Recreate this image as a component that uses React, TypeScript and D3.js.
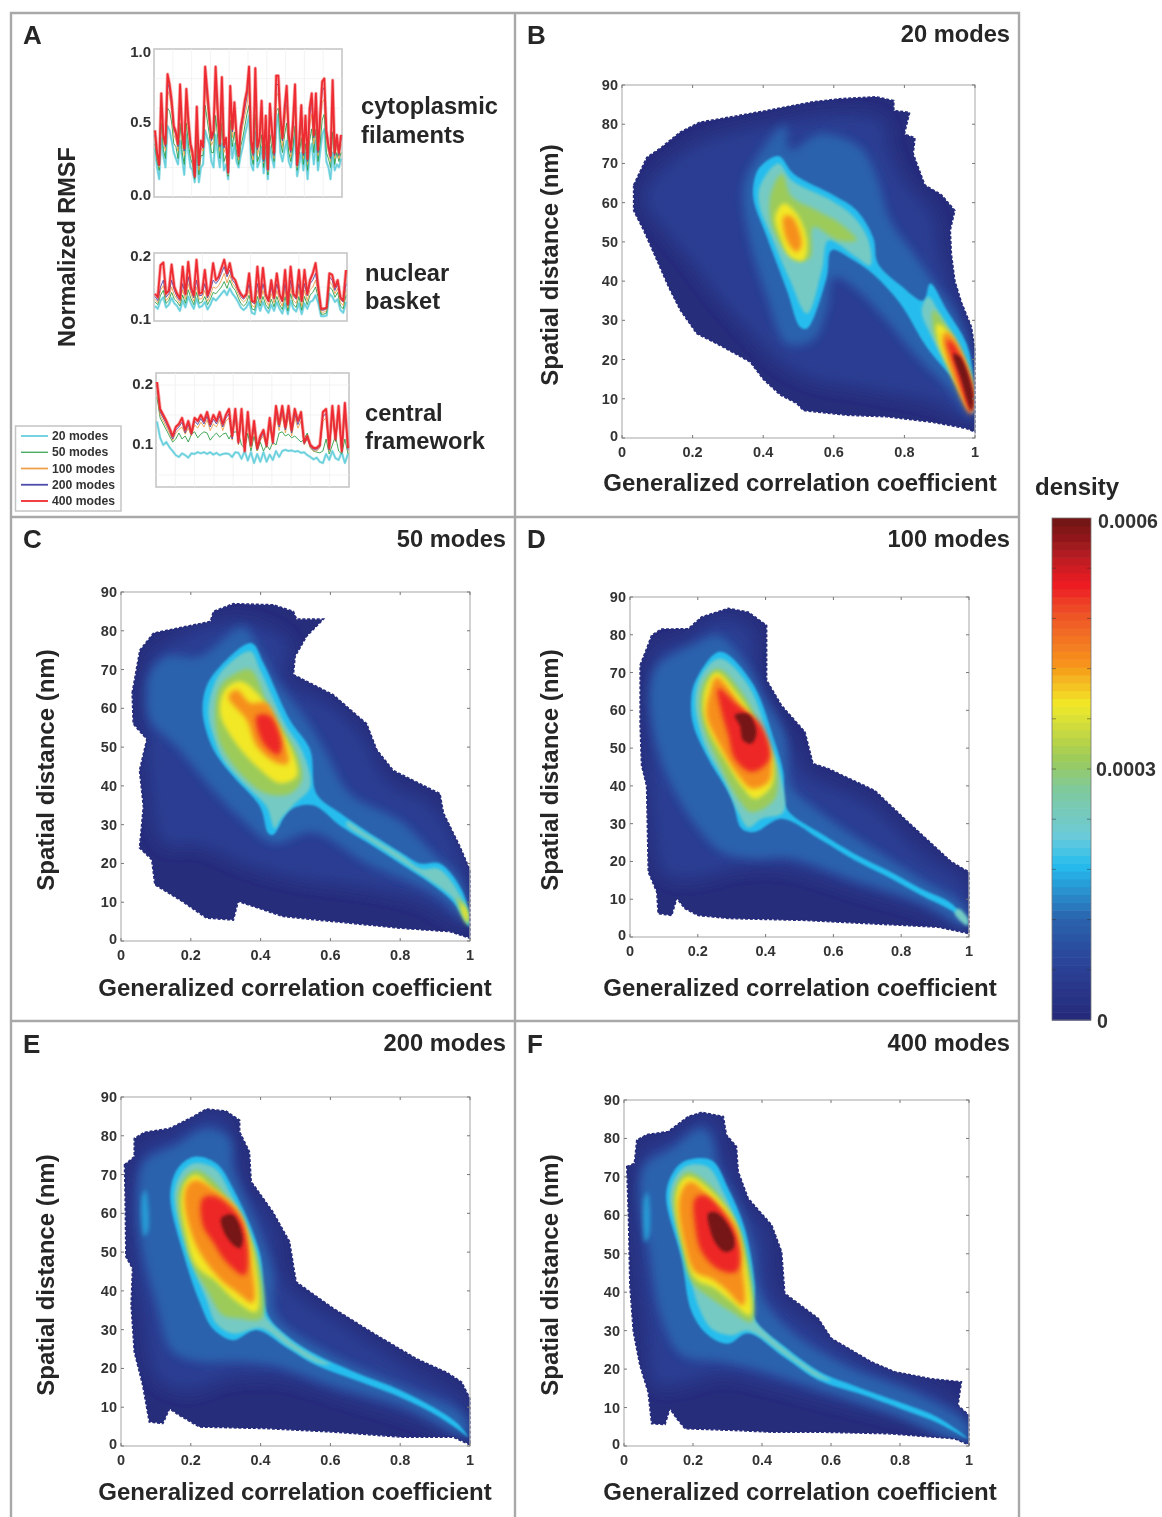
import React from "react";
import * as d3 from "d3";

// ---------- colour bar ----------
const colorStops = [0, 0.1, 0.2, 0.31, 0.37, 0.46, 0.52, 0.63, 0.71, 0.8, 0.87, 0.94, 1];
const colorHexes = ["#262a78", "#2b3f95", "#2b62ad", "#27bdee", "#6ecbd8", "#7fc99c", "#9ccb5a", "#f2e827", "#f7941d", "#ef5a28", "#ed1c24", "#a51c20", "#6d1315"];
const levels = [0.015, 0.09, 0.2, 0.31, 0.4, 0.52, 0.63, 0.72, 0.86, 0.99, 0.27];
const levelBlur = [0, 8, 5, 1.3, 1.7, 2, 2, 2.4, 2.8, 1.8, 2.2];

// ---------- density contours: [level index, ring of x,y in data units] ----------
const panelB: [number, number[]][] = [
  [0, [.033,64.5,.07,71.5,.11,74,.165,78,.22,80.5,.316,82,.41,83.5,.54,85.7,.617,86.5,.72,87,.77,86,.77,83.5,.815,83,.80,77.5,.83,76.5,.825,72.5,.858,64.5,.905,62,.943,58,.93,53,.933,47,.943,40,.962,34.5,.99,28.3,1,22.4,1,1.5,.976,2.4,.88,4,.75,5.4,.637,5.8,.514,7,.495,8.8,.448,11,.4,15,.363,19.4,.278,23.6,.212,26.6,.165,32.6,.132,38.5,.099,45.3,.061,53,.033,58]],
  [1, [.06,61.5,.12,69,.22,75.5,.335,78.5,.467,81,.618,82.7,.74,81,.76,73.4,.807,65,.882,57,.90,48,.93,39.4,.967,31,.993,20.7,.995,4.5,.882,8.8,.693,12.2,.54,14.7,.448,19,.363,26.6,.278,35,.184,46,.108,54]],
  [2, [.344,64,.382,71.7,.462,79.8,.476,73.4,.561,77.6,.674,74.2,.722,66.6,.76,55.5,.835,46,.892,38.5,.939,32.6,.986,21.5,.993,5.4,.929,12.2,.835,20.7,.74,30.9,.656,38.5,.6,41,.58,32.6,.542,25,.467,24,.41,36,.363,49.6]],
  [3, [.373,64.9,.39,69,.443,71.9,.486,67.4,.6,61.9,.665,58,.712,51,.725,44.5,.788,39,.854,35,.873,39.4,.92,32.6,.976,24,.995,15.6,.993,6.2,.939,14.7,.863,23.2,.788,34.3,.715,41.5,.656,45.3,.594,47.9,.58,41,.524,27.9,.505,28.3,.467,37.7,.41,51.3,.373,60.6]],
  [4, [.39,64,.443,70,.481,65.7,.6,60.2,.656,56.4,.698,50.4,.703,44,.656,46.6,.585,50.4,.566,42.8,.524,31.7,.476,40.2,.42,52,.39,59]],
  [4, [.868,36,.9,31.7,.957,23.2,.99,14.7,.993,7,.929,17.3,.873,26.6,.849,32.6]],
  [5, [.42,61.5,.453,67.4,.481,61.5,.552,58,.618,54.7,.665,50.4,.61,50.5,.542,53.8,.533,46,.495,45.3,.429,53]],
  [5, [.882,32.6,.92,28.3,.986,15.6,.986,8,.929,19,.882,27.5]],
  [6, [.434,56.4,.458,59.8,.495,57.2,.524,50.4,.514,45.3,.476,46.2,.448,51.3]],
  [6, [.892,29,.92,27.5,.988,14.7,.988,7,.929,17.3,.9,23.2]],
  [7, [.458,56.4,.481,56.4,.509,49.6,.495,47.4,.467,50.4]],
  [7, [.91,26.6,.929,26.6,.99,13.9,.988,6.2,.929,18]],
  [8, [.92,25,.939,24,.995,12,.99,6.2,.939,19]],
  [9, [.939,21.5,.958,20.7,.995,11,.99,7,.958,15.6]],
];
const panelC: [number, number[]][] = [
  [0, [.032,64,.054,75,.093,79.4,.179,81,.256,82.4,.265,85,.322,87,.436,86.7,.494,85,.503,83,.58,83,.532,78.6,.499,73.4,.494,68.7,.608,63.5,.704,56,.733,49.3,.78,44,.914,38,.924,33,.971,24.4,1,18.3,1,.7,.943,2.4,.8,3.3,.608,5,.465,6.3,.336,10.2,.322,5.4,.245,5.9,.169,10.6,.097,14.5,.088,21,.053,24,.064,34.7,.053,44,.074,52,.035,56]],
  [1, [.064,64,.083,73.4,.169,78.6,.322,82.9,.417,81,.484,76.8,.47,68,.608,60.5,.694,52.8,.761,41.6,.895,34.7,.981,20,.995,4.6,.847,10.6,.656,14,.513,15.7,.37,19,.226,24.4,.121,25,.078,41.6,.069,54.5]],
  [2, [.074,64,.083,69,.131,73.4,.226,73.4,.35,81,.398,75,.446,67,.532,57,.589,48.4,.656,38,.8,31,.895,22.6,.971,15.7,.995,5.4,.895,12.3,.704,20,.551,28,.436,25.2,.35,31,.255,39.8,.16,50,.083,57]],
  [3, [.234,58.8,.245,65.7,.284,70.8,.374,76.8,.408,71.7,.484,57,.542,49.3,.56,38,.628,33,.704,28.3,.8,22.9,.857,20,.914,20,.981,12.3,.998,3.7,.952,10,.895,14.4,.8,20,.704,25.5,.627,29.8,.551,35,.484,33.8,.436,27.4,.422,27.8,.398,34.7,.322,42.4,.265,49.3]],
  [4, [.25,58.8,.265,65.7,.293,70,.37,74.7,.398,70,.47,56,.522,48.4,.542,39.8,.499,35.5,.456,31.2,.441,29,.417,34.7,.36,39.8,.293,46.7,.265,52.7]],
  [4, [.647,30.8,.704,27.6,.8,22.3,.86,18.6,.91,18.6,.97,12,.995,5,.952,11,.895,15,.8,20.7,.704,26.3,.647,29.8]],
  [5, [.269,58.8,.284,65.7,.322,68.7,.37,70,.427,59.6,.503,48.4,.518,41.6,.484,38,.417,38,.35,42.4,.284,51]],
  [5, [.962,11.4,.99,8,.995,4.1,.976,7]],
  [6, [.284,58.8,.298,64.8,.341,67,.389,64,.446,56.2,.499,46.7,.503,42.4,.456,40.7,.389,45,.322,51.9]],
  [6, [.975,10,.993,7.5,.995,4.5,.98,7]],
  [7, [.308,63,.331,64.8,.37,61.4,.417,61.4,.451,55.3,.479,45.9,.446,45.9,.389,50.2,.36,57]],
  [8, [.389,58,.427,58,.46,51,.451,48,.408,51]],
];
const panelD: [number, number[]][] = [
  [0, [.03,72,.049,76.3,.064,79.9,.093,81.5,.172,81.6,.211,84.7,.29,87,.349,86,.403,82.5,.403,68,.447,61.3,.516,54.3,.54,45.9,.584,44.6,.722,38.8,.81,31.3,.948,19.9,1,17.2,1,.9,.909,2.6,.712,3.5,.516,4.4,.29,4.9,.201,5.7,.162,7.5,.138,10.2,.123,5.7,.083,6.2,.079,11.9,.054,17.2,.049,40,.034,45.5,.03,56]],
  [1, [.054,66.6,.074,75.5,.162,79,.26,84.3,.359,81.6,.378,68.4,.427,58.7,.486,49,.516,43.7,.712,34.9,.86,22.5,.992,13.7,.997,2.2,.86,7.5,.663,12.8,.467,18,.319,18,.201,15.4,.103,16.3,.064,31.3,.049,53.4]],
  [2, [.059,65.8,.083,72,.182,77.2,.26,79.9,.339,72.8,.398,63,.457,53.4,.476,40,.535,34.9,.673,26,.86,15.4,.982,8.4,.997,3,.86,9,.663,15,.467,21,.368,20.7,.27,22.5,.201,28.7,.123,40,.074,52.5]],
  [3, [.18,62.2,.192,67.5,.265,75.5,.359,67.5,.427,51.6,.452,43.7,.462,34,.565,27.3,.663,22,.761,17.6,.86,12.7,.948,8.9,.999,3.5,.948,7,.86,11,.761,15.9,.663,20.3,.565,25.6,.447,31.3,.368,27.8,.329,28.7,.3,36.6,.231,47.2,.187,56]],
  [4, [.192,62,.211,69.3,.265,73.7,.349,66.6,.413,51.6,.442,43.7,.452,33,.388,31.3,.349,29,.319,33,.28,41,.221,50.7]],
  [4, [.968,7.5,.997,4.9,.995,3,.958,6.2]],
  [5, [.206,62,.221,68,.26,71,.329,64.9,.398,52.5,.432,44.6,.427,36.6,.359,33,.319,36.6,.26,46.3,.221,54.3]],
  [6, [.216,60.5,.226,66.6,.255,70,.319,64,.398,52.5,.422,46.3,.417,40,.368,36.6,.329,40,.28,47,.231,55]],
  [7, [.226,58.7,.236,64.9,.255,68.8,.319,62.2,.398,51.6,.417,46.3,.408,41,.359,39.3,.319,42.8,.27,49.9]],
  [8, [.26,65.8,.319,61.3,.388,56,.412,47.2,.359,43.7,.309,47.2,.29,53.4,.27,59.6]],
  [9, [.309,58.7,.349,59,.373,54.3,.359,51.2,.334,52,.324,56]],
];
const panelE: [number, number[]][] = [
  [0, [.01,72.5,.038,74.6,.038,79.3,.067,80.9,.139,81.9,.206,84.9,.244,86.9,.301,86.4,.34,84,.34,81,.368,75.9,.373,68.2,.435,60.4,.483,52.7,.502,42.3,.608,35.5,.732,28.6,.847,22.5,.933,19,.976,16.5,1,12.2,1,.3,.952,2.3,.8,2.3,.608,3.6,.416,4.5,.225,4.9,.167,7.9,.139,9.6,.12,5.8,.081,6.2,.062,15.7,.038,24.3,.029,36.3,.033,45.8,.014,48.8,.012,63.9]],
  [1, [.033,67.3,.062,76.8,.139,80,.244,85.4,.301,84.5,.33,75.9,.359,66.4,.435,57,.474,42.3,.627,32,.847,19,.981,11.4,.995,1.9,.847,7,.627,13,.464,17.4,.321,17.4,.187,14,.1,17.4,.062,32.9,.033,50]],
  [2, [.048,64.7,.067,73.3,.158,77.6,.244,81.9,.311,79.3,.321,71.6,.388,57,.435,44.9,.445,33.7,.589,24.3,.8,15.7,.981,7.9,.995,2.8,.8,10.5,.608,15.5,.435,20.8,.321,21.7,.225,21.7,.148,24.3,.1,37.2,.057,52.7]],
  [10, [.06,64,.07,66,.079,56,.067,54]],
  [3, [.141,64.7,.163,71.6,.21,74.6,.273,72.9,.321,66.4,.397,50,.421,33.7,.474,28.5,.56,23.5,.665,19.2,.8,14.4,.895,10,.962,6,.995,2.3,.962,4.5,.895,8.4,.8,12.6,.665,17.2,.56,20.8,.474,25.4,.388,29.9,.321,27.3,.263,30.3,.225,37.2,.177,50]],
  [4, [.153,64.7,.172,70.3,.21,72.9,.268,71.6,.316,64.7,.388,50,.407,34.6,.474,28,.56,22.8,.6,21,.56,21.5,.474,26,.4,30.4,.321,29,.273,31.6,.244,38,.191,50]],
  [5, [.163,63.9,.182,69,.215,71.2,.263,68.6,.316,62,.388,49.2,.402,32.9,.34,32.9,.292,33.7,.244,40.6,.206,46.6]],
  [6, [.172,63.4,.187,68.2,.215,69.9,.263,66.4,.33,61.3,.378,50,.388,34.6,.321,38,.273,42.3,.215,46.6,.187,54.4]],
  [7, [.182,63,.191,67.3,.215,68.6,.273,65.6,.34,60,.368,50,.378,37,.33,39.8,.282,43.2,.215,51.8]],
  [8, [.234,63.9,.273,64.3,.34,58.7,.364,50,.354,44,.301,47.5,.263,52.7,.234,57]],
  [9, [.287,58.7,.321,59.6,.349,53.5,.34,51,.306,53.5]],
];
const panelF: [number, number[]][] = [
  [0, [.008,72.7,.03,73.5,.037,79.6,.066,81,.128,81.8,.186,85.7,.225,86.8,.288,85.7,.297,80.9,.326,77.9,.331,71.4,.36,64.4,.428,57.5,.457,50.5,.466,39.7,.563,33.2,.601,28,.717,21.9,.785,19.3,.891,17.5,.978,16.7,.968,10.6,1,8,1,.3,.958,1.9,.765,3.2,.572,3.6,.428,3.6,.331,4,.177,4.5,.153,7.1,.133,9.7,.119,5.6,.08,5.8,.07,14,.046,21,.027,29.7,.017,41.8,.013,59.2]],
  [1, [.037,67,.056,77,.128,80,.215,85.2,.273,84.3,.283,77.4,.312,71.3,.35,62.6,.408,55.7,.437,40,.543,31.4,.698,21.9,.91,14,.992,8,.997,1,.814,7,.62,11.4,.428,15.8,.283,18.4,.167,15.8,.09,15.8,.06,33,.037,50.5]],
  [2, [.046,64.4,.06,73,.138,77.4,.225,82.6,.254,80,.273,72,.321,64.4,.37,53,.399,39,.486,29.7,.64,21,.862,13,.997,5.4,.995,1.5,.765,8.8,.572,14.5,.379,20,.283,21.9,.167,23.6,.109,33,.07,52]],
  [10, [.058,64,.068,66,.074,55,.062,53]],
  [3, [.122,65,.143,71.3,.181,74.3,.254,74.3,.302,67,.35,56.6,.379,41.8,.379,33,.466,25.8,.563,19.5,.679,15.3,.814,10.9,.91,7.4,.997,1.9,.91,6,.814,9.3,.679,13.7,.563,17.2,.466,23,.36,29.3,.302,26.6,.244,28.8,.196,34.9,.167,48.7]],
  [4, [.133,65,.152,70.4,.186,73,.244,72.6,.288,66,.331,56.6,.36,41.8,.37,34,.466,25.2,.563,18.9,.6,17,.563,17.8,.466,23.7,.36,30,.312,28.8,.254,30.5,.215,36.6,.181,48.7]],
  [5, [.143,64.4,.162,69.6,.186,71.3,.234,69,.302,61.8,.35,52,.37,32.3,.312,34.9,.254,38.3,.196,42.7,.167,52]],
  [6, [.15,64,.167,69,.191,70,.244,67,.317,59,.35,48.7,.365,34,.312,37.5,.263,41,.206,43.5,.177,50.5]],
  [7, [.159,63.5,.177,67.8,.196,68.7,.263,63.5,.326,56.6,.341,48,.346,36.6,.292,41,.254,43.5,.206,45.3,.177,52]],
  [8, [.206,64.4,.234,65.2,.302,59,.336,50.5,.326,45.3,.273,46,.225,50.5,.206,57.5]],
  [9, [.244,60.5,.273,60.5,.317,54.8,.317,51.3,.292,50.5,.264,53,.249,56.5]],
];

// ---------- panel A series ----------
const cyto20 = [.33,.2,.12,.4,.28,.2,.48,.45,.38,.3,.26,.22,.38,.26,.15,.42,.3,.2,.18,.1,.28,.1,.2,.22,.45,.4,.36,.24,.2,.42,.3,.2,.36,.18,.22,.12,.44,.26,.36,.24,.2,.28,.34,.42,.48,.55,.22,.18,.44,.2,.24,.34,.16,.3,.12,.34,.26,.2,.46,.56,.3,.24,.32,.38,.24,.2,.3,.42,.14,.22,.3,.18,.3,.12,.3,.36,.22,.38,.18,.3,.42,.46,.24,.2,.12,.3,.18,.22,.2,.26];
const cyto50 = [.36,.24,.18,.5,.32,.26,.6,.58,.5,.36,.34,.26,.5,.3,.22,.5,.36,.26,.22,.12,.38,.15,.28,.28,.62,.52,.42,.3,.3,.55,.4,.26,.5,.24,.28,.14,.52,.34,.44,.3,.22,.34,.4,.48,.56,.62,.28,.22,.56,.24,.28,.42,.2,.36,.15,.42,.32,.24,.58,.6,.38,.3,.42,.5,.3,.24,.34,.48,.18,.28,.4,.22,.36,.18,.38,.46,.3,.46,.24,.36,.52,.56,.3,.26,.2,.44,.22,.3,.24,.3];
const cyto100 = [.4,.27,.2,.6,.37,.31,.72,.68,.58,.42,.39,.31,.62,.38,.28,.6,.44,.31,.26,.13,.48,.18,.33,.31,.76,.62,.48,.35,.38,.74,.5,.31,.65,.3,.34,.15,.62,.4,.54,.36,.25,.4,.48,.55,.62,.74,.33,.25,.7,.28,.34,.54,.23,.44,.17,.52,.39,.26,.68,.7,.46,.34,.5,.62,.36,.27,.42,.62,.2,.33,.5,.26,.46,.22,.48,.56,.36,.56,.28,.46,.64,.66,.38,.3,.24,.6,.26,.36,.26,.36];
const cyto200 = [.42,.29,.21,.66,.4,.34,.78,.72,.62,.46,.42,.34,.7,.42,.31,.68,.49,.34,.29,.13,.56,.21,.36,.33,.82,.68,.52,.38,.42,.82,.56,.34,.75,.33,.38,.16,.7,.44,.6,.4,.27,.44,.52,.6,.68,.82,.36,.28,.8,.32,.38,.6,.24,.5,.18,.58,.43,.28,.76,.76,.52,.38,.56,.7,.4,.3,.47,.7,.21,.36,.58,.28,.52,.24,.55,.65,.4,.65,.3,.52,.72,.74,.42,.33,.26,.72,.28,.4,.28,.4];
const cyto400 = [.45,.3,.22,.7,.42,.36,.83,.76,.65,.48,.44,.36,.76,.45,.33,.73,.52,.36,.3,.14,.61,.22,.38,.34,.88,.72,.55,.4,.45,.88,.6,.36,.81,.35,.4,.17,.75,.46,.64,.42,.28,.47,.55,.65,.72,.88,.38,.3,.87,.34,.4,.65,.26,.55,.19,.63,.45,.3,.82,.82,.55,.4,.6,.75,.42,.32,.5,.76,.22,.38,.62,.3,.55,.26,.6,.7,.42,.7,.32,.55,.78,.8,.45,.35,.28,.79,.3,.42,.3,.42];

const bask20 = [.122,.118,.13,.135,.12,.124,.134,.126,.122,.115,.13,.12,.136,.126,.118,.133,.12,.122,.128,.117,.124,.134,.13,.135,.14,.145,.138,.148,.14,.135,.128,.12,.116,.12,.128,.112,.11,.128,.115,.128,.118,.112,.124,.115,.128,.118,.111,.126,.11,.13,.118,.114,.126,.11,.126,.118,.128,.13,.138,.126,.107,.107,.108,.14,.136,.128,.132,.116,.112,.128];
const bask50 = [.128,.124,.138,.145,.126,.13,.142,.132,.128,.122,.138,.126,.146,.133,.124,.142,.126,.128,.136,.124,.132,.142,.14,.145,.15,.158,.148,.16,.15,.145,.135,.126,.122,.126,.138,.118,.116,.136,.122,.136,.124,.118,.132,.121,.136,.124,.117,.136,.115,.14,.124,.12,.136,.116,.136,.124,.138,.142,.15,.134,.11,.11,.112,.15,.146,.135,.142,.122,.118,.138];
const bask100 = [.132,.127,.145,.152,.13,.135,.15,.138,.132,.126,.146,.132,.155,.14,.129,.15,.132,.133,.145,.129,.138,.15,.148,.152,.16,.17,.156,.168,.155,.15,.14,.132,.128,.132,.146,.123,.12,.145,.127,.145,.13,.123,.14,.127,.145,.13,.122,.145,.119,.15,.13,.126,.145,.122,.145,.13,.146,.15,.16,.14,.113,.113,.115,.158,.153,.14,.148,.127,.123,.146];
const bask200 = [.136,.13,.15,.16,.135,.14,.16,.145,.135,.13,.155,.138,.165,.145,.134,.16,.137,.138,.155,.134,.145,.16,.155,.16,.17,.18,.165,.175,.16,.155,.145,.136,.132,.137,.155,.128,.125,.155,.132,.155,.136,.128,.15,.132,.155,.137,.128,.155,.123,.16,.137,.132,.155,.128,.155,.137,.155,.16,.17,.145,.116,.116,.118,.165,.16,.145,.155,.132,.128,.155];
const bask400 = [.14,.135,.182,.186,.14,.145,.183,.15,.14,.133,.18,.14,.187,.15,.138,.19,.14,.142,.175,.138,.15,.185,.16,.165,.178,.19,.17,.185,.165,.16,.148,.14,.135,.14,.17,.13,.128,.18,.135,.178,.14,.13,.16,.135,.17,.14,.13,.175,.125,.18,.14,.135,.175,.13,.175,.14,.16,.17,.185,.15,.118,.118,.12,.17,.168,.15,.16,.135,.13,.175];

const core20 = [.139,.112,.1,.105,.096,.09,.083,.08,.086,.083,.079,.086,.085,.088,.086,.088,.085,.088,.084,.087,.083,.085,.086,.085,.08,.088,.087,.077,.09,.074,.088,.07,.085,.072,.088,.072,.084,.075,.09,.08,.09,.092,.09,.091,.089,.09,.087,.088,.083,.08,.076,.079,.072,.07,.085,.075,.09,.078,.075,.088,.07,.085];
const core50 = [.18,.145,.135,.125,.115,.105,.11,.12,.11,.115,.105,.118,.122,.112,.118,.122,.12,.108,.115,.12,.113,.118,.12,.11,.12,.122,.12,.1,.095,.12,.09,.115,.09,.105,.09,.1,.092,.105,.1,.12,.122,.115,.118,.112,.115,.11,.105,.11,.12,.095,.09,.088,.087,.09,.11,.085,.1,.115,.09,.085,.11,.085];
const core100 = [.19,.15,.14,.13,.12,.108,.12,.126,.13,.118,.128,.115,.134,.128,.138,.13,.142,.124,.135,.13,.142,.124,.14,.145,.108,.145,.1,.145,.088,.14,.095,.128,.09,.108,.115,.095,.132,.1,.148,.124,.15,.12,.148,.115,.145,.128,.14,.1,.11,.095,.09,.09,.095,.14,.145,.09,.148,.105,.148,.087,.152,.09];
const core200 = [.2,.155,.145,.135,.124,.11,.125,.13,.138,.12,.134,.117,.14,.134,.144,.135,.148,.13,.143,.135,.148,.13,.145,.152,.11,.152,.102,.152,.089,.148,.098,.134,.092,.11,.12,.097,.138,.102,.156,.13,.158,.125,.156,.12,.152,.134,.148,.102,.112,.097,.092,.092,.097,.148,.152,.092,.156,.107,.156,.088,.16,.092];
const core400 = [.205,.16,.15,.14,.128,.115,.13,.135,.145,.125,.14,.12,.145,.14,.15,.14,.155,.135,.15,.14,.155,.135,.15,.16,.115,.16,.105,.16,.09,.155,.1,.14,.095,.115,.125,.1,.145,.105,.165,.135,.165,.13,.165,.125,.16,.14,.155,.105,.115,.1,.095,.095,.1,.155,.16,.095,.165,.11,.165,.09,.17,.095];

const modeNames = ["20 modes", "50 modes", "100 modes", "200 modes", "400 modes"];
const modeColors = ["#68cfdc", "#2f9e48", "#ee9f4c", "#4b4bab", "#ee2c30"];
const xTicks = [0, 0.2, 0.4, 0.6, 0.8, 1];
const yTicks = [0, 10, 20, 30, 40, 50, 60, 70, 80, 90];

const FONT = "'Liberation Sans', Arial, sans-serif";
const INK = "#262626";
const FRAME = "#a8a8a8";

const colorAt = d3.scaleLinear<string>().domain(colorStops).range(colorHexes).interpolate(d3.interpolateRgb);

type Heat = {
  id: string; rings: [number, number[]][]; box: [number, number, number, number];
  letter: string; lx: number; ly: number; title?: string; tx: number; ty: number;
  xlx: number; xly: number; ylx: number; yly: number;
};

const heats: Heat[] = [
  { id: "B", rings: panelB, box: [622, 975, 85, 438], letter: "B", lx: 527, ly: 44, title: "20 modes", tx: 1010, ty: 42, xlx: 800, xly: 491, ylx: 558, yly: 265 },
  { id: "C", rings: panelC, box: [121, 470, 592, 941], letter: "C", lx: 23, ly: 548, title: "50 modes", tx: 506, ty: 547, xlx: 295, xly: 996, ylx: 54, yly: 770 },
  { id: "D", rings: panelD, box: [630, 969, 597, 937], letter: "D", lx: 527, ly: 548, title: "100 modes", tx: 1010, ty: 547, xlx: 800, xly: 996, ylx: 558, yly: 770 },
  { id: "E", rings: panelE, box: [121, 470, 1097, 1446], letter: "E", lx: 23, ly: 1053, title: "200 modes", tx: 506, ty: 1051, xlx: 295, xly: 1500, ylx: 54, yly: 1275 },
  { id: "F", rings: panelF, box: [624, 969, 1100, 1446], letter: "F", lx: 527, ly: 1053, title: "400 modes", tx: 1010, ty: 1051, xlx: 800, xly: 1500, ylx: 558, yly: 1275 },
];

function toPairs(flat: number[]): [number, number][] {
  const out: [number, number][] = [];
  for (let i = 0; i < flat.length; i += 2) out.push([flat[i], flat[i + 1]]);
  return out;
}

function HeatPanel({ p }: { p: Heat }) {
  const [x0, x1, yTop, yBot] = p.box;
  const x = d3.scaleLinear().domain([0, 1]).range([x0, x1]);
  const y = d3.scaleLinear().domain([0, 90]).range([yBot, yTop]);
  const linear = d3.line<[number, number]>().x((d) => x(d[0])).y((d) => y(d[1])).curve(d3.curveLinearClosed);
  const smooth = d3.line<[number, number]>().x((d) => x(d[0])).y((d) => y(d[1])).curve(d3.curveCatmullRomClosed.alpha(0.5));
  const outline = linear(toPairs(p.rings[0][1])) || "";
  return (
    <g>
      <clipPath id={`clip${p.id}`}><path d={outline} /></clipPath>
      <rect x={x0} y={yTop} width={x1 - x0} height={yBot - yTop} fill="#fff" />
      <g clipPath={`url(#clip${p.id})`}>
        <path d={outline} fill={colorAt(levels[0])} />
        {p.rings.slice(1).map(([lv, ring], i) => (
          <path key={i} d={smooth(toPairs(ring)) || ""} fill={colorAt(levels[lv])} filter={`url(#blur${lv})`} />
        ))}
      </g>
      <path d={outline} fill="none" stroke={colorAt(levels[0])} strokeWidth={1.6} strokeDasharray="3 1.8" />
      <rect x={x0} y={yTop} width={x1 - x0} height={yBot - yTop} fill="none" stroke="#b4b4b4" strokeWidth={1.2} />
      {xTicks.map((t) => (
        <g key={t}>
          <line x1={x(t)} x2={x(t)} y1={yBot} y2={yBot - 3} stroke="#777" />
          <line x1={x(t)} x2={x(t)} y1={yTop} y2={yTop + 3} stroke="#777" />
          <text x={x(t)} y={yBot + 19} textAnchor="middle" fontSize={14.5} fontWeight={700} fill="#333">{t}</text>
        </g>
      ))}
      {yTicks.map((t) => (
        <g key={t}>
          <line x1={x0} x2={x0 + 3} y1={y(t)} y2={y(t)} stroke="#777" />
          <line x1={x1} x2={x1 - 3} y1={y(t)} y2={y(t)} stroke="#777" />
          <text x={x0 - 4} y={y(t) + (t === 0 ? 3 : 5)} textAnchor="end" fontSize={14.5} fontWeight={700} fill="#333">{t}</text>
        </g>
      ))}
      <text x={p.xlx} y={p.xly} textAnchor="middle" fontSize={24} fontWeight={700} fill={INK}>Generalized correlation coefficient</text>
      <text transform={`translate(${p.ylx},${p.yly}) rotate(-90)`} textAnchor="middle" fontSize={24} fontWeight={700} fill={INK}>Spatial distance (nm)</text>
      <text x={p.lx} y={p.ly} fontSize={26} fontWeight={700} fill={INK}>{p.letter}</text>
      <text x={p.tx} y={p.ty} textAnchor="end" fontSize={23.7} fontWeight={700} fill={INK}>{p.title}</text>
    </g>
  );
}

type Rmsf = {
  series: number[][]; frame: [number, number, number, number]; domain: [number, number];
  ticks: number[]; fmt: string; grid: number[]; cols: number; inset: number;
};

const rmsfs: Rmsf[] = [
  { series: [cyto20, cyto50, cyto100, cyto200, cyto400], frame: [154, 342, 49, 197], domain: [0, 1], ticks: [0, 0.5, 1], fmt: ".1f", grid: [0.2, 0.4, 0.6, 0.8], cols: 10, inset: 2.5 },
  { series: [bask20, bask50, bask100, bask200, bask400], frame: [154, 347, 253, 321], domain: [0.1, 0.2], ticks: [0.1, 0.2], fmt: ".1f", grid: [0.15], cols: 4, inset: 2.5 },
  { series: [core20, core50, core100, core200, core400], frame: [156, 349, 373, 487], domain: [0.03, 0.22], ticks: [0.1, 0.2], fmt: ".1f", grid: [0.05, 0.1, 0.15, 0.2], cols: 10, inset: 0 },
];

function RmsfPanel({ r }: { r: Rmsf }) {
  const [x0, x1, yTop, yBot] = r.frame;
  const y = d3.scaleLinear().domain(r.domain).range([yBot, yTop]);
  const fmt = d3.format(r.fmt);
  const [lo, hi] = r.domain;
  return (
    <g>
      <rect x={x0} y={yTop} width={x1 - x0} height={yBot - yTop} fill="#fff" stroke="#c6c6c6" strokeWidth={1.6} />
      {d3.range(1, r.cols).map((i) => {
        const gx = x0 + ((x1 - x0) * i) / r.cols;
        return <line key={i} x1={gx} x2={gx} y1={yTop} y2={yBot} stroke="#f0f0f0" strokeWidth={0.8} />;
      })}
      {r.grid.map((g) => <line key={g} x1={x0} x2={x1} y1={y(g)} y2={y(g)} stroke="#f0f0f0" strokeWidth={0.8} />)}
      {r.series.map((s, i) => {
        const x = d3.scaleLinear().domain([0, s.length - 1]).range([x0 + 1, x1 - 1]);
        const line = d3.line<number>().x((_, k) => x(k)).y((d) => y(d));
        const d = line(s) || "";
        return (
          <g key={i}>
            {i === 4 && <path d={d} fill="none" stroke={modeColors[i]} strokeOpacity={0.4} strokeWidth={3.4} strokeLinejoin="round" />}
            {i === 0 && <path d={d} fill="none" stroke={modeColors[i]} strokeOpacity={0.5} strokeWidth={2.6} strokeLinejoin="round" />}
            <path d={d} fill="none" stroke={modeColors[i]} strokeWidth={i === 4 ? 1.8 : i === 0 ? 1.4 : 0.9} strokeLinejoin="round" />
          </g>
        );
      })}
      {r.ticks.map((t) => (
        <text key={t} x={x0 - 3} y={y(t) + 5 + (t === hi ? r.inset : t === lo ? -r.inset : -1)} textAnchor="end" fontSize={15} fontWeight={700} fill="#333">{fmt(t)}</text>
      ))}
    </g>
  );
}

function Legend() {
  const rows = d3.scaleLinear().domain([0, 4]).range([436, 501]);
  return (
    <g>
      <rect x={15.5} y={426} width={105.5} height={85} fill="#fff" stroke="#c4c4c4" strokeWidth={1.5} />
      {modeNames.map((m, i) => (
        <g key={m}>
          <line x1={21} x2={48} y1={rows(i)} y2={rows(i)} stroke={modeColors[i]} strokeWidth={i === 1 ? 1.2 : 1.8} />
          <text x={52} y={rows(i) + 4} fontSize={12.2} fontWeight={700} fill="#333">{m}</text>
        </g>
      ))}
    </g>
  );
}

function ColorBar() {
  const [bx0, bx1, byTop, byBot] = [1052, 1091, 518, 1020];
  const y = d3.scaleLinear().domain([0, 0.0006]).range([byBot, byTop]);
  const steps = d3.range(0, 64);
  const h = (byBot - byTop) / 64;
  return (
    <g>
      {steps.map((s) => (
        <rect key={s} x={bx0} y={byBot - (s + 1) * h} width={bx1 - bx0} height={h + 0.6} fill={colorAt((s + 0.5) / 64)} />
      ))}
      <rect x={bx0} y={byTop} width={bx1 - bx0} height={byBot - byTop} fill="none" stroke="#777" strokeWidth={0.8} />
      {d3.range(1, 10).map((k) => {
        const ty = y((0.0006 * k) / 10);
        return (
          <g key={k} stroke="#333" strokeOpacity={0.55} strokeWidth={0.9}>
            <line x1={bx0} x2={bx0 + 4} y1={ty} y2={ty} />
            <line x1={bx1} x2={bx1 - 4} y1={ty} y2={ty} />
          </g>
        );
      })}
      <text x={1035} y={495} fontSize={24} fontWeight={700} fill={INK}>density</text>
      <text x={1098} y={528} fontSize={19.6} fontWeight={700} fill="#333">0.0006</text>
      <text x={1096} y={776} fontSize={19.6} fontWeight={700} fill="#333">0.0003</text>
      <text x={1097} y={1028} fontSize={19.6} fontWeight={700} fill="#333">0</text>
    </g>
  );
}

export default function App() {
  return (
    <svg width={1162} height={1517} viewBox="0 0 1162 1517" fontFamily={FONT} style={{ position: "absolute", left: 0, top: 0, background: "#fff" }}>
      <defs>
        {levelBlur.map((b, i) => (
          <filter key={i} id={`blur${i}`} x="-40%" y="-40%" width="180%" height="180%">
            <feGaussianBlur stdDeviation={b} />
          </filter>
        ))}
        <filter id="soft" x="0" y="0" width="1162" height="1517" filterUnits="userSpaceOnUse">
          <feGaussianBlur stdDeviation={0.7} />
        </filter>
      </defs>
      <g filter="url(#soft)">
        <rect x={0} y={0} width={1162} height={1517} fill="#fff" />
        <g fill="none" stroke={FRAME} strokeWidth={2.4}>
          <path d="M11,1517V13H1019V1517" />
          <path d="M515,13V1517" />
          <path d="M11,517H1019" />
          <path d="M11,1021H1019" />
        </g>
        <text x={23} y={44} fontSize={26} fontWeight={700} fill={INK}>A</text>
        <text transform="translate(75,247) rotate(-90)" textAnchor="middle" fontSize={23.5} fontWeight={700} fill={INK}>Normalized RMSF</text>
        {rmsfs.map((r, i) => <RmsfPanel key={i} r={r} />)}
        <Legend />
        <g fontSize={23.7} fontWeight={700} fill={INK}>
          <text x={361} y={114}>cytoplasmic</text>
          <text x={361} y={143}>filaments</text>
          <text x={365} y={281}>nuclear</text>
          <text x={365} y={309}>basket</text>
          <text x={365} y={421}>central</text>
          <text x={365} y={449}>framework</text>
        </g>
        {heats.map((p) => <HeatPanel key={p.id} p={p} />)}
        <ColorBar />
      </g>
    </svg>
  );
}
